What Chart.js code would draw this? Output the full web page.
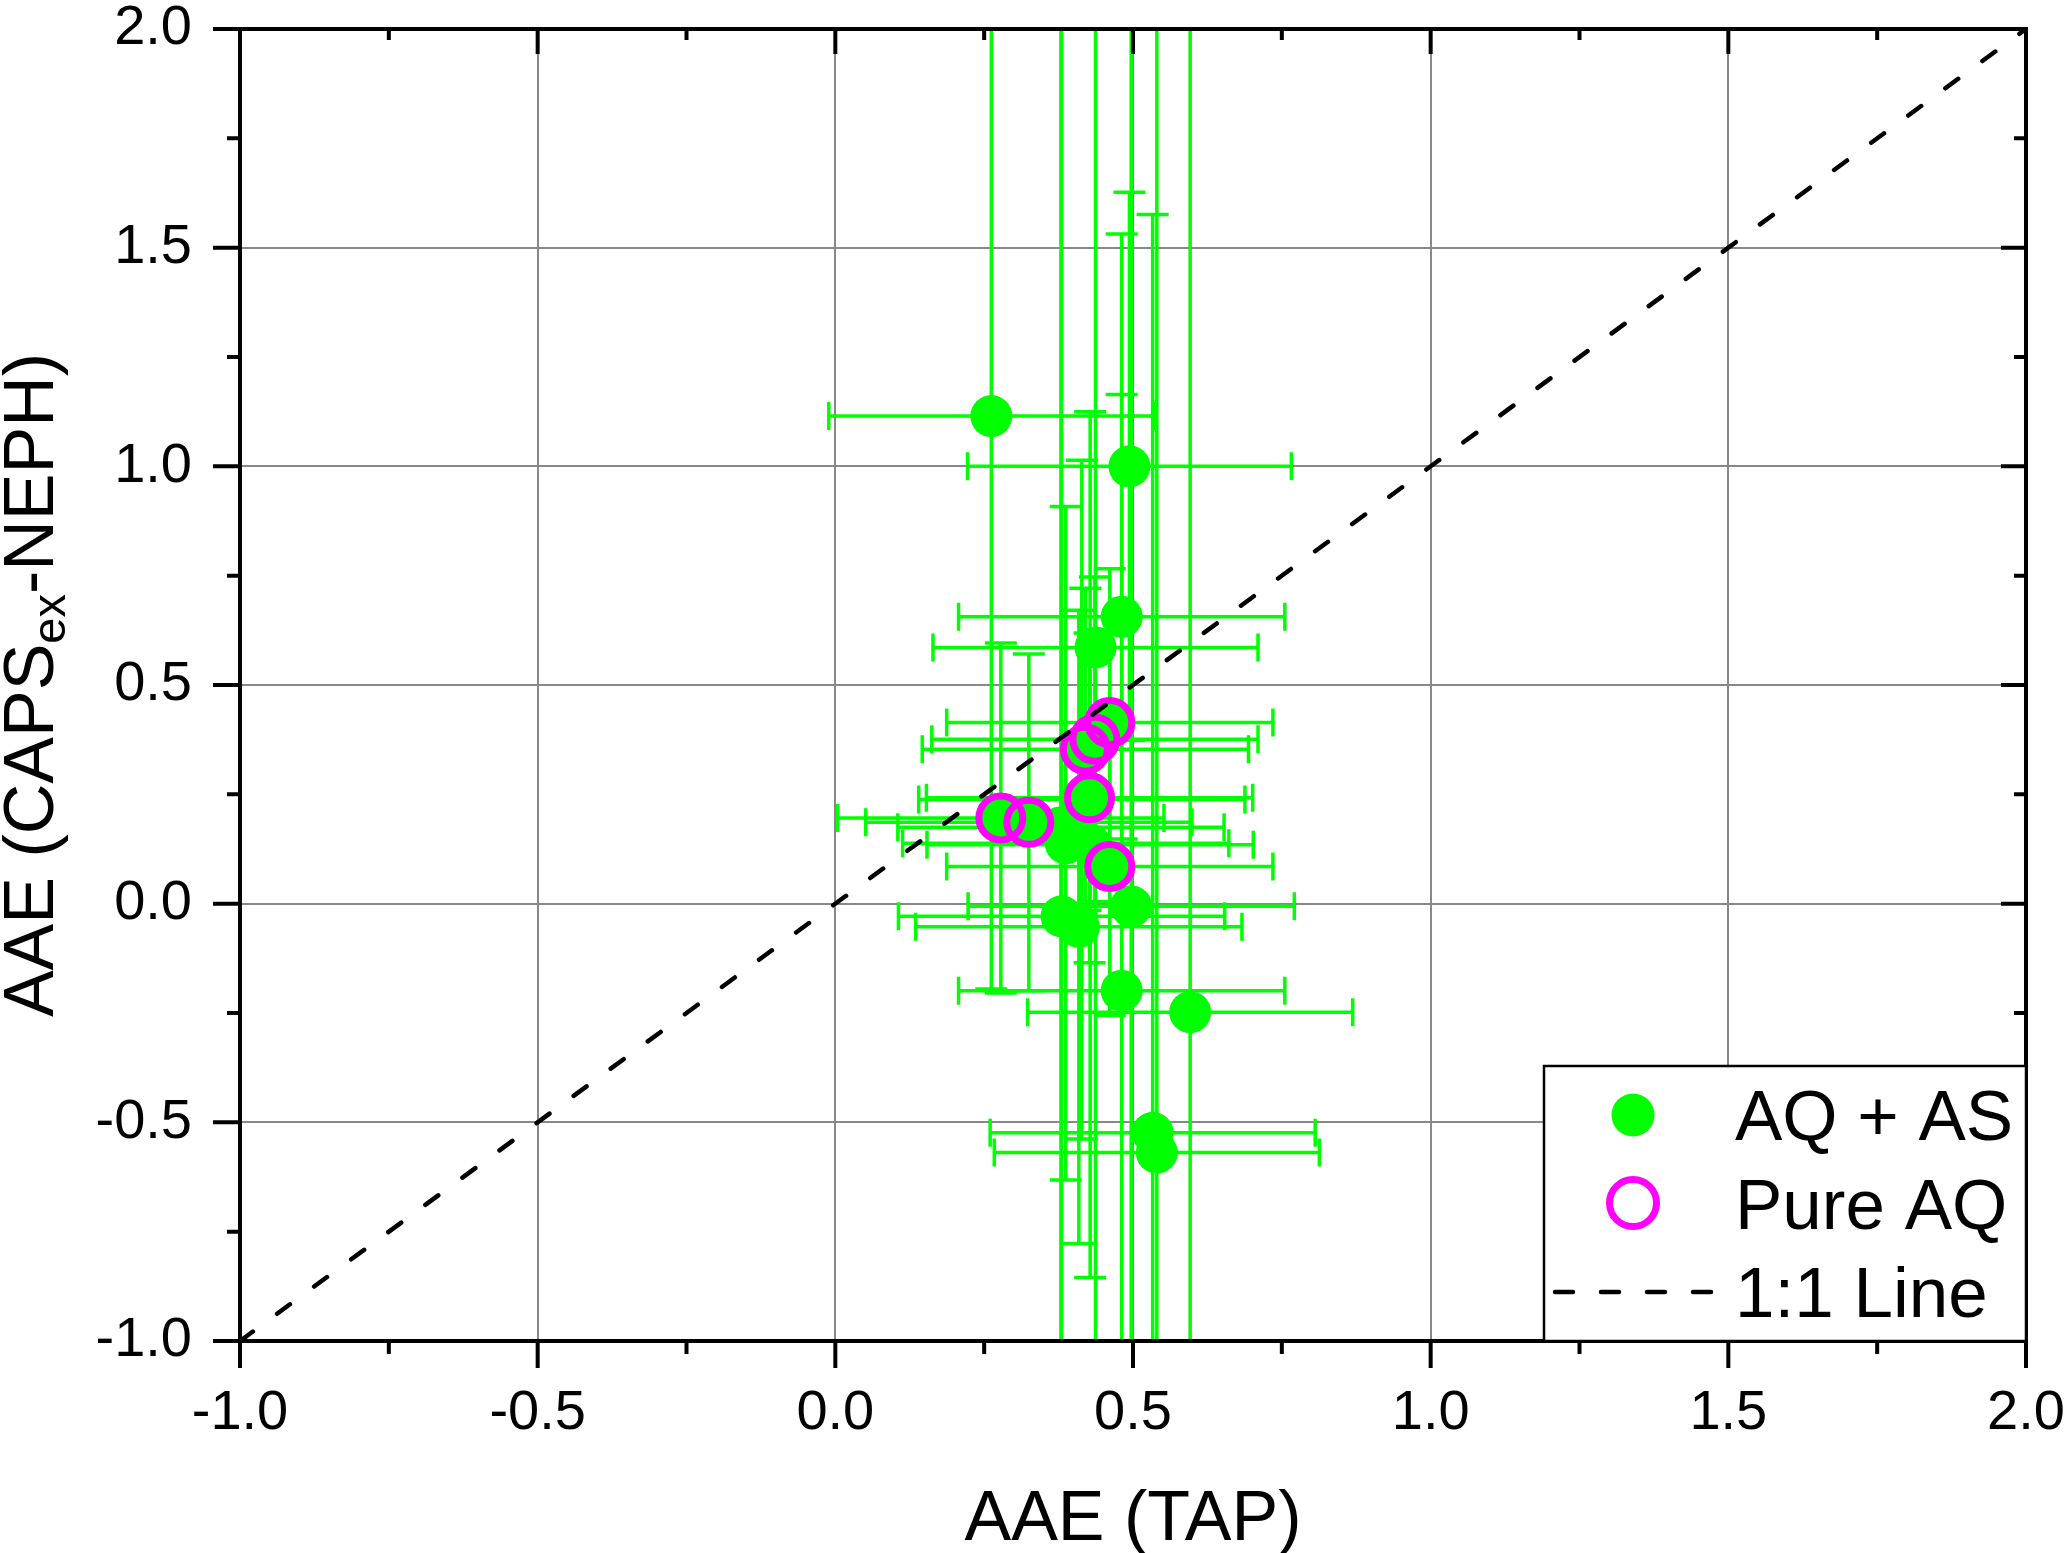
<!DOCTYPE html>
<html>
<head>
<meta charset="utf-8">
<title>AAE (CAPSex-NEPH) vs AAE (TAP)</title>
<script src="https://cdn.jsdelivr.net/npm/chart.js@4.4.1/dist/chart.umd.min.js"></script>
<style>
    html, body { margin: 0; padding: 0; background: #ffffff; }
    #wrap { width: 2067px; height: 1553px; }
</style>
</head>
<body>
<div id="wrap"><canvas id="aaeChart" width="2067" height="1553"></canvas></div>
<script>
// AQ + AS (green, filled) - every sample
var aqasX    = [0.262, 0.494, 0.481, 0.437, 0.461, 0.436, 0.420, 0.427, 0.414, 0.278, 0.325,
                0.379, 0.387, 0.428, 0.461, 0.497, 0.380, 0.409, 0.481, 0.596, 0.533, 0.540];
var aqasY    = [1.115, 1.000, 0.656, 0.586, 0.414, 0.376, 0.353, 0.242, 0.238, 0.196, 0.186,
                0.175, 0.138, 0.135, 0.085, -0.006, -0.029, -0.053, -0.199, -0.248, -0.524, -0.569];
var aqasXErr = [0.273, 0.272, 0.274, 0.273, 0.274, 0.274, 0.274, 0.274, 0.274, 0.274, 0.274,
                0.274, 0.274, 0.274, 0.274, 0.274, 0.274, 0.274, 0.274, 0.273, 0.273, 0.273];
var aqasYErr = [1.310, 0.627, 0.508, 1.750, 0.352, 0.371, 0.368, 0.377, 0.776, 0.400, 0.385,
                2.300, 0.770, 0.990, 0.340, 2.200, 2.200, 0.724, 1.730, 2.400, 2.100, 2.700];

// Pure AQ (magenta, open)
var pureX = [0.278, 0.325, 0.420, 0.436, 0.461, 0.427, 0.461];
var pureY = [0.196, 0.186, 0.353, 0.376, 0.414, 0.242, 0.085];

// 1:1 reference line
var oneToOneX = [-1.0, 2.0];
var oneToOneY = [-1.0, 2.0];

// axis ticks (same on both axes)
var majorTicks = [-1.0, -0.5, 0.0, 0.5, 1.0, 1.5, 2.0];
var minorTicks = [-0.75, -0.25, 0.25, 0.75, 1.25, 1.75];

var GREEN = '#00ff00';
var MAGENTA = '#ff00ff';
var FONT = '"Liberation Sans", Arial, Helvetica, sans-serif';

function toPoints(xs, ys) {
    return xs.map(function (x, i) { return { x: x, y: ys[i] }; });
}

function line(ctx, x1, y1, x2, y2) {
    ctx.moveTo(x1, y1);
    ctx.lineTo(x2, y2);
}

// error bars go under the markers
var errorBarPlugin = {
    id: 'errorBars',
    beforeDatasetsDraw: function (chart) {
        var ctx = chart.ctx, xs = chart.scales.x, ys = chart.scales.y, a = chart.chartArea;
        ctx.save();
        ctx.beginPath();
        ctx.rect(a.left, a.top, a.right - a.left, a.bottom - a.top);
        ctx.clip();
        ctx.strokeStyle = GREEN;
        ctx.lineWidth = 3.5;
        ctx.lineCap = 'butt';
        for (var i = 0; i < aqasX.length; i++) {
            var px = xs.getPixelForValue(aqasX[i]);
            var py = ys.getPixelForValue(aqasY[i]);
            var xl = xs.getPixelForValue(aqasX[i] - aqasXErr[i]);
            var xr = xs.getPixelForValue(aqasX[i] + aqasXErr[i]);
            var yt = ys.getPixelForValue(aqasY[i] + aqasYErr[i]);
            var yb = ys.getPixelForValue(aqasY[i] - aqasYErr[i]);
            ctx.beginPath();
            line(ctx, xl, py, xr, py);
            line(ctx, xl, py - 14, xl, py + 14);
            line(ctx, xr, py - 14, xr, py + 14);
            line(ctx, px, yt, px, yb);
            line(ctx, px - 16, yt, px + 16, yt);
            line(ctx, px - 16, yb, px + 16, yb);
            ctx.stroke();
        }
        ctx.restore();
    }
};

// frame, Origin-style ticks, axis titles and the legend box
var framePlugin = {
    id: 'frame',
    afterDraw: function (chart) {
        var ctx = chart.ctx, xs = chart.scales.x, ys = chart.scales.y, a = chart.chartArea;
        ctx.save();
        ctx.strokeStyle = '#000';
        ctx.lineCap = 'butt';
        ctx.lineWidth = 4;
        ctx.strokeRect(a.left, a.top, a.right - a.left, a.bottom - a.top);

        ctx.beginPath();
        majorTicks.forEach(function (v) {
            var x = xs.getPixelForValue(v), y = ys.getPixelForValue(v);
            line(ctx, x, a.bottom, x, a.bottom + 27);
            line(ctx, x, a.top, x, a.top + 25);
            line(ctx, a.left - 27, y, a.left, y);
            line(ctx, a.right - 25, y, a.right, y);
        });
        minorTicks.forEach(function (v) {
            var x = xs.getPixelForValue(v), y = ys.getPixelForValue(v);
            line(ctx, x, a.bottom, x, a.bottom + 13);
            line(ctx, x, a.top, x, a.top + 11);
            line(ctx, a.left - 13, y, a.left, y);
            line(ctx, a.right - 12, y, a.right, y);
        });
        ctx.stroke();

        // axis titles
        ctx.fillStyle = '#000';
        ctx.font = '70px ' + FONT;
        ctx.textAlign = 'center';
        ctx.textBaseline = 'alphabetic';
        ctx.fillText('AAE (TAP)', (a.left + a.right) / 2, 1540);

        var p1 = 'AAE (CAPS', sub = 'ex', p3 = '-NEPH)';
        ctx.font = '70px ' + FONT;
        var w1 = ctx.measureText(p1).width, w3 = ctx.measureText(p3).width;
        ctx.font = '47px ' + FONT;
        var w2 = ctx.measureText(sub).width;
        var total = w1 + w2 + w3;
        ctx.translate(53, (a.top + a.bottom) / 2);
        ctx.rotate(-Math.PI / 2);
        ctx.textAlign = 'left';
        var sx = -total / 2;
        ctx.font = '70px ' + FONT;
        ctx.fillText(p1, sx, 0);
        ctx.font = '47px ' + FONT;
        ctx.fillText(sub, sx + w1, 12);
        ctx.font = '70px ' + FONT;
        ctx.fillText(p3, sx + w1 + w2, 0);
        ctx.setTransform(1, 0, 0, 1, 0, 0);

        // legend
        var lx = 1544, ly = 1066;
        ctx.fillStyle = '#fff';
        ctx.fillRect(lx, ly, a.right - lx, a.bottom - ly);
        ctx.lineWidth = 2.5;
        ctx.strokeStyle = '#000';
        ctx.strokeRect(lx, ly, a.right - lx, a.bottom - ly);

        ctx.fillStyle = GREEN;
        ctx.beginPath();
        ctx.arc(1633, 1115, 21.5, 0, Math.PI * 2);
        ctx.fill();

        ctx.strokeStyle = MAGENTA;
        ctx.lineWidth = 7;
        ctx.beginPath();
        ctx.arc(1633, 1203, 23.5, 0, Math.PI * 2);
        ctx.stroke();

        ctx.strokeStyle = '#000';
        ctx.lineWidth = 4.5;
        ctx.lineCap = 'round';
        ctx.setLineDash([18, 28]);
        ctx.beginPath();
        line(ctx, 1555, 1292, 1713, 1292);
        ctx.stroke();
        ctx.setLineDash([]);

        ctx.fillStyle = '#000';
        ctx.font = '71px ' + FONT;
        ctx.textAlign = 'left';
        ctx.fillText('AQ + AS', 1735, 1140);
        ctx.fillText('Pure AQ', 1735, 1229);
        ctx.fillText('1:1 Line', 1735, 1317);
        ctx.restore();
    }
};

function gridColor(ctx) {
    var v = ctx.tick ? ctx.tick.value : null;
    return (v === -1 || v === 2) ? 'rgba(0,0,0,0)' : '#888888';
}

function axisOptions(isX) {
    return {
        type: 'linear',
        position: isX ? 'bottom' : 'left',
        min: -1,
        max: 2,
        afterBuildTicks: function (scale) {
            scale.ticks = majorTicks.map(function (v) { return { value: v }; });
        },
        ticks: {
            autoSkip: false,
            maxRotation: 0,
            color: '#000',
            padding: isX ? 39 : 48,
            font: { family: FONT, size: 56 },
            callback: function (v) { return Number(v).toFixed(1); }
        },
        grid: { color: gridColor, lineWidth: 2, drawTicks: false },
        border: { display: false },
        title: { display: false },
        afterFit: function (scale) {
            if (isX) {
                scale.height = 212;
                scale.paddingLeft = 0;
                scale.paddingRight = 0;
            } else {
                scale.width = 240;
                scale.paddingTop = 0;
                scale.paddingBottom = 0;
            }
        }
    };
}

var aaeChart = new Chart(document.getElementById('aaeChart').getContext('2d'), {
    type: 'scatter',
    data: {
        datasets: [{
            label: '1:1 Line',
            data: toPoints(oneToOneX, oneToOneY),
            showLine: true,
            borderColor: '#000',
            borderWidth: 4.5,
            borderDash: [16, 30],
            borderCapStyle: 'round',
            pointRadius: 0,
            fill: false
        }, {
            label: 'Pure AQ',
            data: toPoints(pureX, pureY),
            pointStyle: 'circle',
            pointRadius: 22,
            backgroundColor: 'rgba(0,0,0,0)',
            borderColor: MAGENTA,
            borderWidth: 7
        }, {
            label: 'AQ + AS',
            data: toPoints(aqasX, aqasY),
            pointStyle: 'circle',
            pointRadius: 21,
            backgroundColor: GREEN,
            borderColor: GREEN,
            borderWidth: 0
        }]
    },
    options: {
        responsive: false,
        animation: false,
        devicePixelRatio: 1,
        layout: { padding: { top: 24, right: 41, left: 0, bottom: 0 } },
        plugins: {
            legend: { display: false },
            tooltip: { enabled: false }
        },
        scales: {
            x: axisOptions(true),
            y: axisOptions(false)
        }
    },
    plugins: [errorBarPlugin, framePlugin]
});
</script>
</body>
</html>
